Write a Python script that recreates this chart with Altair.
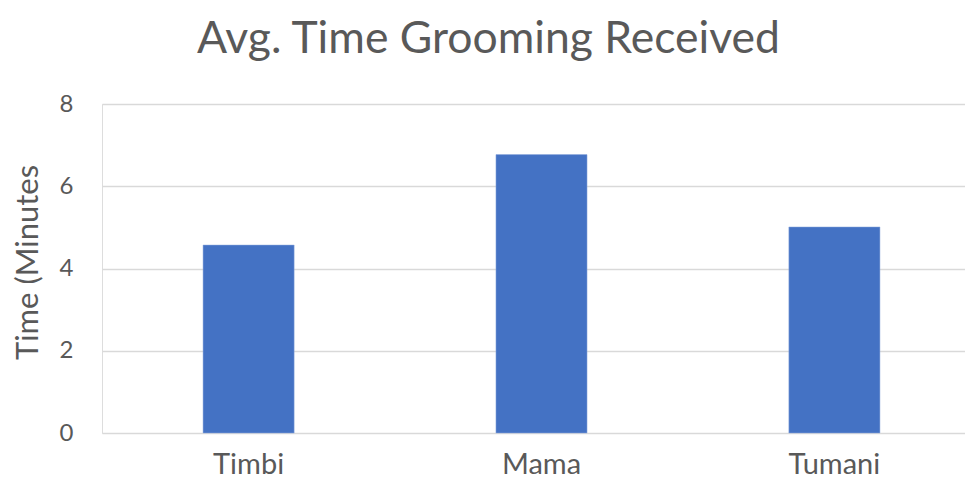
import altair as alt
import pandas as pd

names = ["Timbi", "Mama", "Tumani"]
minutes = [4.57, 6.77, 5.01]
y_ticks = [0, 2, 4, 6, 8]

df = pd.DataFrame({"name": names, "minutes": minutes})

FONT = "Lato"
GREY = "#595959"

chart = alt.Chart(df).mark_bar(color="#4472C4", stroke="#8faadc", strokeWidth=0.5).encode(
    x=alt.X("name:N", sort=names, title=None,
            scale=alt.Scale(range=[0, 879], paddingInner=0.689, paddingOuter=0.345),
            axis=alt.Axis(labelAngle=0, labelFont=FONT, labelFontSize=29, labelColor=GREY,
                          labelBaseline="alphabetic", labelPadding=40,
                          domain=False, ticks=False)),
    y=alt.Y("minutes:Q", title="Time (Minutes",
            scale=alt.Scale(domain=[0, 8]),
            axis=alt.Axis(values=y_ticks, labelFont=FONT, labelFontSize=24, labelColor=GREY,
                          titleFont=FONT, titleFontSize=31, titleColor=GREY, titleFontWeight="normal",
                          titleBaseline="alphabetic", titleX=-65, titleY=158,
                          labelPadding=29, domain=False, ticks=False,
                          gridColor="#d9d9d9", gridWidth=1.5)),
).properties(
    width=863,
    height=329,
    title=alt.TitleParams("Avg. Time Grooming Received", font=FONT, fontSize=44.5,
                          fontWeight="normal", color=GREY, offset=30, dx=-45),
    autosize=alt.AutoSizeParams(type="none"),
    padding={"left": 94, "top": 96, "right": 0, "bottom": 46},
).configure_view(stroke=None).configure(background="white")

chart.save("out.html", embed_options={"renderer": "svg", "actions": False})
